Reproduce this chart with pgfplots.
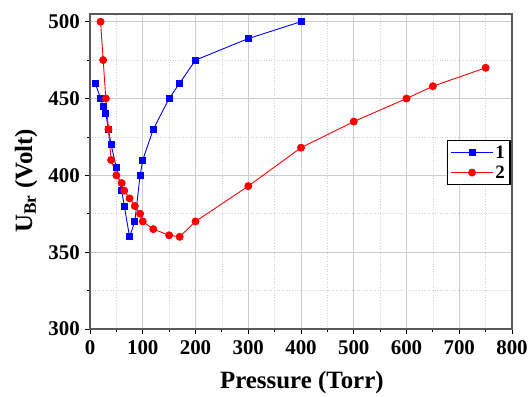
\documentclass[border=0pt]{standalone}
\usepackage{fontspec}
\setmainfont{Liberation Serif}
\usepackage{pgfplots}
\pgfplotsset{compat=1.18}
\begin{document}
\begin{tikzpicture}
\begin{axis}[
  scale only axis,
  width=422bp, height=315bp,
  xmin=0, xmax=800, ymin=300, ymax=505,
  xtick={0,100,...,800}, ytick={300,350,...,500},
  xticklabels={}, yticklabels={},
  minor x tick num=1, minor y tick num=1,
  tick align=outside, tick pos=left,
  major tick length=5bp, minor tick length=3bp,
  every tick/.style={black, line width=0.8pt},
  axis line style={line width=1.6pt, color=black!65},
  grid=both,
  major grid style={line width=0.8pt, color=black!20},
  minor grid style={line width=0.6pt, color=black!18, dotted},
  clip=false,
  xlabel={Pressure (Torr)},
  ylabel={U\textsubscript{Br} (Volt)},
  label style={font=\fontsize{25}{29}\selectfont\bfseries},
  xlabel style={at={(axis description cs:0.502,-0.1873)}, anchor=base},
  ylabel style={at={(axis description cs:-0.116,0.47)}, anchor=south},
  legend style={at={(0.846,0.6)}, anchor=north west, draw=black, line width=1.2pt,
    font=\fontsize{19}{22}\selectfont\bfseries, row sep=2bp, inner sep=3bp},
  legend cell align=left,
  legend image code/.code={\draw[mark repeat=2,mark phase=2] plot coordinates {(0bp,0bp)(21bp,0bp)(42bp,0bp)};},
]
\addplot[blue, line width=0.9pt, mark=square*, mark size=3bp, mark options={solid}] coordinates {
(10,460)(20,450)(25,445)(30,440)(35,430)(40,420)(50,405)(60,390)(65,380)(75,360)(85,370)(95,400)(100,410)(120,430)(150,450)(170,460)(200,475)(300,489)(400,500)
};
\addlegendentry{1}
\addplot[red, line width=0.9pt, mark=*, mark size=3.5bp] coordinates {
(20,500)(25,475)(30,450)(35,430)(40,410)(50,400)(60,395)(65,390)(75,385)(85,380)(95,375)(100,370)(120,365)(150,361)(170,360)(200,370)(300,393)(400,418)(500,435)(600,450)(650,458)(750,470)
};
\addlegendentry{2}
\pgfplotsinvokeforeach{0,100,200,300,400,500,600,700,800}{
  \node[anchor=base, inner sep=0pt, font=\fontsize{21}{24}\selectfont\bfseries] at (axis cs:#1,300) [yshift=-25.5bp] {#1};
}
\pgfplotsinvokeforeach{300,350,400,450,500}{
  \node[anchor=east, inner sep=0pt, font=\fontsize{21}{24}\selectfont\bfseries] at (axis cs:0,#1) [xshift=-10bp] {#1};
}
\end{axis}
\path[use as bounding box] ([shift={(-90bp,-67bp)}]current axis.south west) rectangle ([shift={(20bp,14bp)}]current axis.north east);
\end{tikzpicture}
\end{document}
